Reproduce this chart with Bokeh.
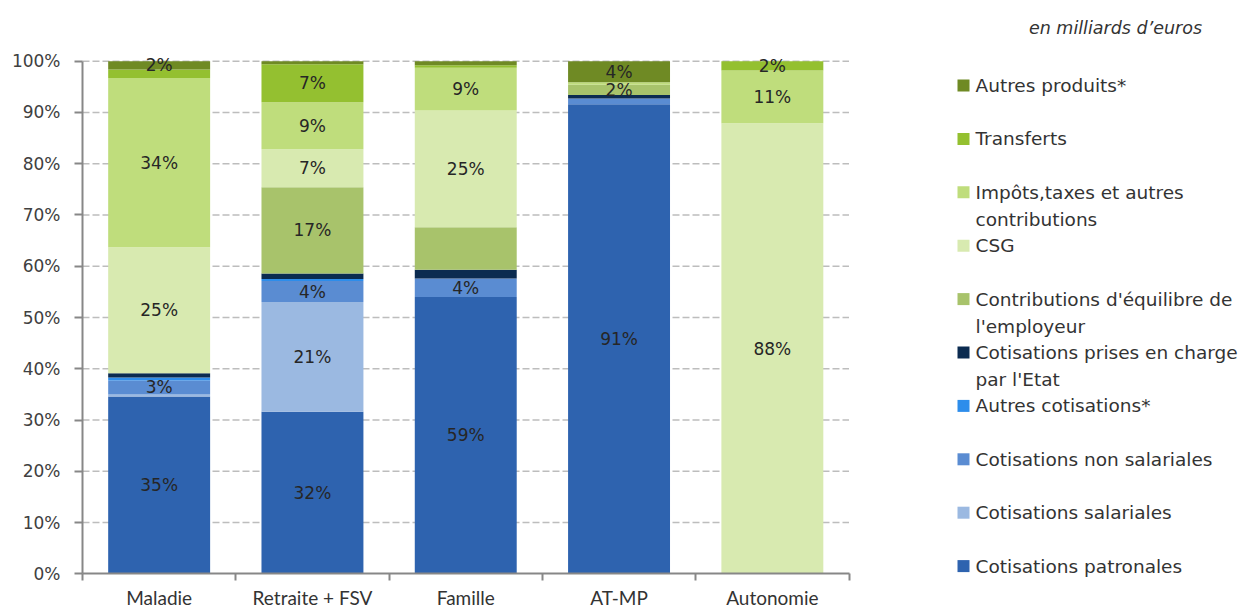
from bokeh.plotting import figure
from bokeh.models import ColumnDataSource, Range1d, FixedTicker, PrintfTickFormatter
from bokeh.embed import file_html
from bokeh.resources import INLINE
from bokeh.core.properties import value

# ---------------- data (shares in %, bottom to top) ----------------
categories = ["Maladie", "Retraite + FSV", "Famille", "AT-MP", "Autonomie"]

patronales = [34.6, 31.6, 54.0, 91.6, 0.0]
salariales = [0.4, 21.4, 0.0, 0.0, 0.0]
non_salariales = [2.7, 4.1, 3.6, 1.1, 0.0]
autres_cotisations = [0.6, 0.4, 0.0, 0.0, 0.0]
prises_en_charge_etat = [0.8, 1.1, 1.7, 0.7, 0.0]
contrib_employeur = [0.0, 16.8, 8.3, 2.0, 0.0]
csg = [24.6, 7.4, 22.8, 0.0, 87.9]
impots_taxes = [33.0, 9.2, 8.3, 0.5, 10.3]
transferts = [1.7, 7.4, 0.5, 0.0, 1.8]
autres_produits = [1.6, 0.6, 0.8, 4.1, 0.0]

# labels printed on the segments
lab_patronales = ["35%", "32%", "59%", "91%", ""]
lab_salariales = ["", "21%", "", "", ""]
lab_non_salariales = ["3%", "4%", "4%", "", ""]
lab_autres_cotisations = ["", "", "", "", ""]
lab_etat = ["", "", "", "", ""]
lab_employeur = ["", "17%", "", "2%", ""]
lab_csg = ["25%", "7%", "25%", "", "88%"]
lab_impots = ["34%", "9%", "9%", "", "11%"]
lab_transferts = ["", "7%", "", "", "2%"]
lab_autres_produits = ["2%", "", "", "4%", ""]

series_names = [
    "Cotisations patronales",
    "Cotisations salariales",
    "Cotisations non salariales",
    "Autres cotisations*",
    "Cotisations prises en charge\npar l'Etat",
    "Contributions d'équilibre de\nl'employeur",
    "CSG",
    "Impôts,taxes et autres\ncontributions",
    "Transferts",
    "Autres produits*",
]
series_colors = [
    "#2E63AF", "#9BB9E1", "#5A8CD2", "#2D8DEB", "#0B2B50",
    "#A8C36B", "#D8EAB0", "#BFDD7C", "#94C030", "#6F8A24",
]
y_ticks = [0, 10, 20, 30, 40, 50, 60, 70, 80, 90, 100]
unit_note = "en milliards d’euros"

values = [patronales, salariales, non_salariales, autres_cotisations,
          prises_en_charge_etat, contrib_employeur, csg, impots_taxes,
          transferts, autres_produits]
labels = [lab_patronales, lab_salariales, lab_non_salariales,
          lab_autres_cotisations, lab_etat, lab_employeur, lab_csg,
          lab_impots, lab_transferts, lab_autres_produits]
keys = ["s%d" % i for i in range(len(values))]

# ---------------- layout geometry (pixels) ----------------
W, H = 1250, 610
X0, XU = 82.0, 153.3      # pixel of x=0, pixels per category
Y0, YU = 573.3, 5.126     # pixel of y=0, pixels per percent


def dx(px):
    return (px - X0) / XU


def dy(py):
    return (Y0 - py) / YU


n = len(categories)
xs = [i + 0.5 for i in range(n)]
data = {"x": xs}
for k, v in zip(keys, values):
    data[k] = v
source = ColumnDataSource(data)

FONT = "DejaVu Sans"
p = figure(width=W, height=H,
           x_range=Range1d(dx(0), dx(W)), y_range=Range1d(dy(H), dy(0)),
           output_backend="svg", toolbar_location=None, min_border=0)
p.outline_line_color = None
p.xgrid.visible = False
p.ygrid.visible = False

# dashed horizontal gridlines limited to the chart area
gy = [t for t in y_ticks if t > 0]
p.segment(x0=[0] * len(gy), x1=[n] * len(gy), y0=gy, y1=gy,
          line_color="#BDBDBD", line_width=1.6, line_dash="7 3", level="underlay")

p.vbar_stack(keys, x="x", width=0.665, source=source,
             fill_color=series_colors, line_color=None)

# segment labels
lx, ly, lt = [], [], []
for j in range(n):
    bottom = 0.0
    for vals, labs in zip(values, labels):
        if labs[j]:
            lx.append(xs[j])
            ly.append(bottom + vals[j] / 2.0)
            lt.append(labs[j])
        bottom += vals[j]
p.text(x=lx, y=ly, text=lt, text_align="center", text_baseline="middle",
       text_font=value(FONT), text_font_size="17px", text_color="#262626")

# y axis (fixed at x=0)
ya = p.yaxis[0]
ya.fixed_location = 0
ya.bounds = (0, 100)
ya.ticker = FixedTicker(ticks=y_ticks)
ya.formatter = PrintfTickFormatter(format="%d%%")
ya.axis_line_color = "#878787"
ya.axis_line_width = 2
ya.major_tick_line_color = "#878787"
ya.major_tick_line_width = 2
ya.major_tick_out = 8
ya.major_tick_in = 0
ya.minor_tick_line_color = None
ya.major_label_standoff = 14
ya.major_label_text_font = FONT
ya.major_label_text_font_size = "17px"
ya.major_label_text_color = "#404040"

# x axis (fixed at y=0): labels at centres, ticks at boundaries
xa = p.xaxis[0]
xa.fixed_location = 0
xa.bounds = (0, n)
xa.ticker = FixedTicker(ticks=xs, minor_ticks=list(range(n + 1)))
xa.major_label_overrides = {float(x): c for x, c in zip(xs, categories)}
xa.axis_line_color = "#878787"
xa.axis_line_width = 2
xa.major_tick_out = 0
xa.major_tick_in = 0
xa.minor_tick_out = 7
xa.minor_tick_in = 0
xa.minor_tick_line_color = "#878787"
xa.minor_tick_line_width = 2
xa.major_label_standoff = 5
xa.major_label_text_font = "Lato"
xa.major_label_text_font_size = "19px"
xa.major_label_text_color = "#333333"

# ---------------- legend (drawn at the right) ----------------
first_py = 85.0
step_py = 53.4
line_gap_py = 27.0
sq_px, tx_px = 963.0, 975.0
rx, ry, rc = [], [], []
tx, ty, tt = [], [], []
for i, (name, col) in enumerate(zip(series_names[::-1], series_colors[::-1])):
    py = first_py + i * step_py
    rx.append(dx(sq_px)); ry.append(dy(py)); rc.append(col)
    for k, line in enumerate(name.split("\n")):
        tx.append(dx(tx_px)); ty.append(dy(py + k * line_gap_py)); tt.append(line)
p.rect(x=rx, y=ry, width=12, height=12, width_units="screen",
       height_units="screen", fill_color=rc, line_color=None)
p.text(x=tx, y=ty, text=tt, text_align="left", text_baseline="middle",
       text_font=value(FONT), text_font_size="18.5px", text_color="#333333")
p.text(x=[dx(1115)], y=[dy(27)], text=[unit_note], text_align="center",
       text_baseline="middle", text_font=value(FONT), text_font_size="17.5px",
       text_font_style="italic", text_color="#333333")

open("out.html", "w").write(file_html(p, INLINE))
